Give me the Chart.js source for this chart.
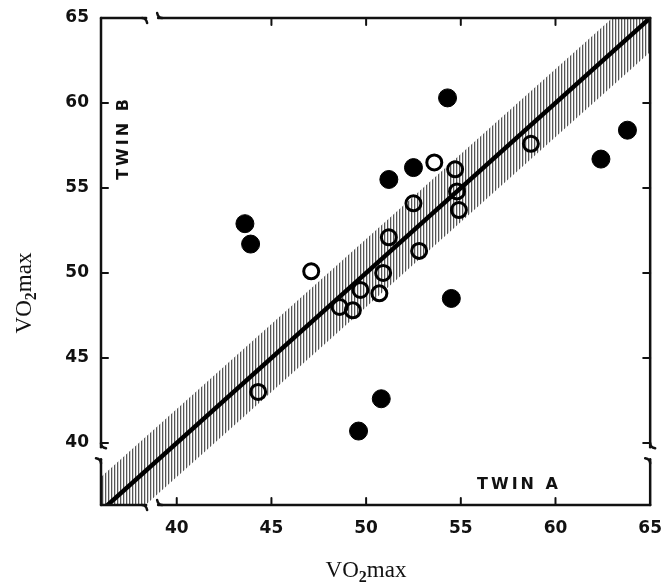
<!DOCTYPE html>
<html>
<head>
<meta charset="utf-8">
<title>VO2max twins</title>
<script src="https://cdn.jsdelivr.net/npm/chart.js@4.4.0/dist/chart.umd.min.js"></script>
<style>
    html, body { margin: 0; padding: 0; background: #fff; }
    #wrap { width: 662px; height: 587px; }
</style>
</head>
<body>
<div id="wrap"><canvas id="chartCanvas"></canvas></div>
<script>
// tick values and axis ranges
const xTicks = [40, 45, 50, 55, 60, 65];
const yTicks = [40, 45, 50, 55, 60, 65];
const xRange = [36, 65];
const yRange = [36.35, 65];

// twin pairs as [twin A] / [twin B]; filled = one group, open = the other
const twinAFilled = [43.6, 43.9, 54.3, 51.2, 52.5, 63.8, 62.4, 54.5, 50.8, 49.6];
const twinBFilled = [52.9, 51.7, 60.3, 55.5, 56.2, 58.4, 56.7, 48.5, 42.6, 40.7];
const twinAOpen = [47.1, 53.6, 54.7, 58.7, 52.5, 54.8, 54.9, 52.8, 51.2, 50.9, 50.7, 49.7, 49.3, 48.6, 44.3];
const twinBOpen = [50.1, 56.5, 56.1, 57.6, 54.1, 54.8, 53.7, 51.3, 52.1, 50.0, 48.8, 49.0, 47.8, 48.0, 43.0];

// line of identity and the shaded band around it
const identityX = [36, 65];
const bandHalfWidth = 2;

// where the axes are broken
const xBreak = 38.7;
const yBreak = 39.4;

const toPoints = (xs, ys) => xs.map((v, i) => ({ x: v, y: ys[i] }));

// vertical hatch used for the band
function makeHatch() {
    const c = document.createElement('canvas');
    c.width = 3;
    c.height = 3;
    const g = c.getContext('2d');
    g.fillStyle = '#ffffff';
    g.fillRect(0, 0, 3, 3);
    g.fillStyle = '#555555';
    g.fillRect(0, 0, 1, 3);
    g.fillStyle = '#cfcfcf';
    g.fillRect(1, 0, 1, 3);
    return g.createPattern(c, 'repeat');
}

function drawVO2(ctx, size) {
    // draws "VO2max" centred on the origin, subscript 2
    ctx.font = `${size}px "Liberation Serif", "DejaVu Serif", serif`;
    const w1 = ctx.measureText('VO').width;
    const w3 = ctx.measureText('max').width;
    ctx.font = `bold ${Math.round(size * 0.68)}px "Liberation Serif", serif`;
    const w2 = ctx.measureText('2').width;
    let x0 = -(w1 + w2 + w3) / 2;
    ctx.font = `${size}px "Liberation Serif", "DejaVu Serif", serif`;
    ctx.fillText('VO', x0, 0);
    ctx.font = `bold ${Math.round(size * 0.68)}px "Liberation Serif", serif`;
    ctx.fillText('2', x0 + w1, size * 0.22);
    ctx.font = `${size}px "Liberation Serif", "DejaVu Serif", serif`;
    ctx.fillText('max', x0 + w1 + w2, 0);
}

const framePlugin = {
    id: 'frame',
    afterDraw(chart) {
        const { ctx, chartArea: a, scales: { x, y } } = chart;
        const bx = x.getPixelForValue(xBreak);
        const by = y.getPixelForValue(yBreak);
        const gap = 6;
        const seg = (x1, y1, x2, y2) => {
            ctx.beginPath();
            ctx.moveTo(x1, y1);
            ctx.lineTo(x2, y2);
            ctx.stroke();
        };

        ctx.save();
        ctx.strokeStyle = '#111';
        ctx.lineWidth = 2.5;
        ctx.lineCap = 'round';

        // frame, broken near the low end of each axis
        [a.left, a.right].forEach((ax) => {
            seg(ax, a.top, ax, by - gap);
            seg(ax, by + gap, ax, a.bottom);
            ctx.beginPath();
            ctx.moveTo(ax, by - gap - 4);
            ctx.quadraticCurveTo(ax, by - gap, ax + 5, by - gap + 1);
            ctx.stroke();
            ctx.beginPath();
            ctx.moveTo(ax, by + gap + 4);
            ctx.quadraticCurveTo(ax, by + gap, ax - 5, by + gap - 1);
            ctx.stroke();
        });
        [a.top, a.bottom].forEach((ay) => {
            seg(a.left, ay, bx - gap, ay);
            seg(bx + gap, ay, a.right, ay);
            ctx.beginPath();
            ctx.moveTo(bx - gap - 4, ay);
            ctx.quadraticCurveTo(bx - gap, ay, bx - gap + 1, ay + 5);
            ctx.stroke();
            ctx.beginPath();
            ctx.moveTo(bx + gap + 4, ay);
            ctx.quadraticCurveTo(bx + gap, ay, bx + gap - 1, ay - 5);
            ctx.stroke();
        });

        // inward tick marks
        const tl = 7;
        ctx.lineWidth = 2;
        xTicks.slice(0, -1).forEach((v) => {
            const px = x.getPixelForValue(v);
            seg(px, a.bottom, px, a.bottom - tl);
            if (v > 40) seg(px, a.top, px, a.top + tl);
        });
        yTicks.slice(0, -1).forEach((v) => {
            const py = y.getPixelForValue(v);
            seg(a.left, py, a.left + tl, py);
            seg(a.right, py, a.right - tl, py);
        });

        // in-plot labels
        ctx.fillStyle = '#111';
        ctx.font = 'bold 16px "DejaVu Sans", sans-serif';
        ctx.letterSpacing = '3px';
        ctx.textAlign = 'center';
        ctx.textBaseline = 'middle';
        ctx.save();
        ctx.translate(a.left + 23, a.top + 120);
        ctx.rotate(-Math.PI / 2);
        ctx.fillText('TWIN B', 0, 0);
        ctx.restore();
        ctx.fillText('TWIN A', a.left + 418, a.bottom - 20);
        ctx.letterSpacing = '0px';

        // axis titles
        ctx.textAlign = 'left';
        ctx.textBaseline = 'alphabetic';
        ctx.save();
        ctx.translate(a.left + 265, 577);
        drawVO2(ctx, 23);
        ctx.restore();
        ctx.save();
        ctx.translate(31, 293);
        ctx.rotate(-Math.PI / 2);
        drawVO2(ctx, 23);
        ctx.restore();

        ctx.restore();
    }
};

document.addEventListener('DOMContentLoaded', () => {
    const ctx = document.getElementById('chartCanvas').getContext('2d');
    const hatch = makeHatch();
    const tickFont = { family: '"DejaVu Sans", sans-serif', size: 17, weight: 'bold' };

    new Chart(ctx, {
        type: 'scatter',
        data: {
            datasets: [
                {
                    label: 'filled',
                    data: toPoints(twinAFilled, twinBFilled),
                    pointRadius: 9,
                    pointBackgroundColor: '#000',
                    pointBorderColor: '#000',
                    pointBorderWidth: 1,
                    order: 0,
                },
                {
                    label: 'open',
                    data: toPoints(twinAOpen, twinBOpen),
                    pointRadius: 7.5,
                    pointBackgroundColor: 'rgba(0,0,0,0)',
                    pointBorderColor: '#000',
                    pointBorderWidth: 3,
                    order: 0,
                },
                {
                    label: 'identity',
                    data: toPoints(identityX, identityX),
                    showLine: true,
                    borderColor: '#000',
                    borderWidth: 4.5,
                    pointRadius: 0,
                    order: 1,
                },
                {
                    label: 'band low',
                    data: toPoints(identityX, identityX.map((v) => v - bandHalfWidth)),
                    showLine: true,
                    borderColor: 'rgba(0,0,0,0)',
                    pointRadius: 0,
                    fill: false,
                    order: 3,
                },
                {
                    label: 'band high',
                    data: toPoints(identityX, identityX.map((v) => v + bandHalfWidth)),
                    showLine: true,
                    borderColor: 'rgba(0,0,0,0)',
                    backgroundColor: hatch,
                    pointRadius: 0,
                    fill: '-1',
                    order: 2,
                },
            ],
        },
        options: {
            responsive: true,
            maintainAspectRatio: false,
            animation: false,
            layout: { padding: { top: 18, right: 0, left: 0, bottom: 0 } },
            plugins: {
                legend: { display: false },
                tooltip: { enabled: false },
            },
            scales: {
                x: {
                    type: 'linear',
                    min: xRange[0],
                    max: xRange[1],
                    // invisible tick marks only push the labels down
                    grid: { display: true, drawOnChartArea: false, drawTicks: true, tickLength: 13, color: 'rgba(0,0,0,0)' },
                    border: { display: false },
                    ticks: { font: tickFont, color: '#111', padding: 0 },
                    afterBuildTicks: (scale) => { scale.ticks = xTicks.map((v) => ({ value: v })); },
                    afterFit: (scale) => { scale.height = 82; },
                },
                y: {
                    type: 'linear',
                    min: yRange[0],
                    max: yRange[1],
                    grid: { display: false },
                    border: { display: false },
                    ticks: { font: tickFont, color: '#111', padding: 4 },
                    afterBuildTicks: (scale) => { scale.ticks = yTicks.map((v) => ({ value: v })); },
                    afterFit: (scale) => { scale.width = 101; },
                },
            },
        },
        plugins: [framePlugin],
    });
});
</script>
</body>
</html>
